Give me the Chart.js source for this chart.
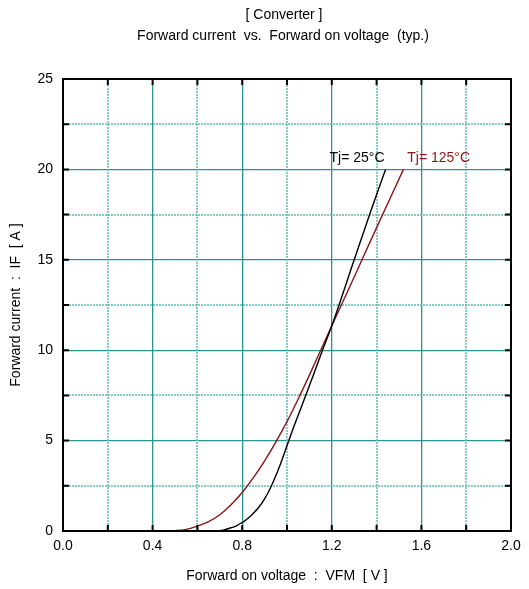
<!DOCTYPE html>
<html>
<head>
<meta charset="utf-8">
<script src="https://cdn.jsdelivr.net/npm/chart.js@4.4.1/dist/chart.umd.min.js"></script>
<style>
  html, body { margin: 0; padding: 0; background: #fff; }
</style>
</head>
<body>
<canvas id="ifChart" width="529" height="589"></canvas>
<script>
// textos
const titleLines = ['[ Converter ]', 'Forward current  vs.  Forward on voltage  (typ.)'];
const xAxisTitle = 'Forward on voltage  :  VFM  [ V ]';
const yAxisTitle = 'Forward current  :  IF  [ A ]';

// ejes
const xTicks = [0, 0.4, 0.8, 1.2, 1.6, 2.0];
const xTickLabels = ['0.0', '0.4', '0.8', '1.2', '1.6', '2.0'];
const yTicks = [0, 5, 10, 15, 20, 25];
const yTickLabels = ['0', '5', '10', '15', '20', '25'];
const xMinor = [0.2, 0.6, 1.0, 1.4, 1.8];
const yMinor = [2.5, 7.5, 12.5, 17.5, 22.5];

// curvas (VF en V, IF en A)
const seriesNames = ['Tj= 25°C', 'Tj= 125°C'];
const vf25  = [0.68, 0.72, 0.75, 0.77, 0.79, 0.81, 0.83, 0.85, 0.875, 0.90, 0.925, 0.95, 0.975, 1.0,  1.03, 1.07, 1.12, 1.16,  1.20,  1.30, 1.37,  1.44];
const if25  = [0,    0.06, 0.18, 0.26, 0.40, 0.55, 0.75, 0.98, 1.33,  1.78, 2.35,  3.05, 3.85,  4.72, 5.75, 7.05, 8.7,  10.05, 11.35, 15.0, 17.55, 20.0];
const vf125 = [0.46, 0.50, 0.55, 0.60, 0.65, 0.70, 0.75, 0.80, 0.85, 0.90, 0.95, 1.0,  1.05, 1.10, 1.15, 1.20,  1.30,  1.40,  1.52];
const if125 = [0,    0.02, 0.09, 0.27, 0.52, 0.90, 1.45, 2.13, 2.95, 3.88, 4.92, 6.05, 7.3,  8.62, 9.98, 11.35, 14.05, 16.78, 20.0];

// posición de las etiquetas de cada curva (en unidades de datos)
const labelAt = [[1.19, 20.65], [1.537, 20.6]];

const FONT = 'Liberation Sans, Arial, sans-serif';
const TEAL = '#2a9393';
const colors = ['#000000', '#8b1414'];

function toPoints(xs, ys) {
    return xs.map((x, i) => ({ x: x, y: ys[i] }));
}

// Plugin: titulo, rejilla menor punteada, marco, marcas internas y etiquetas
const decoPlugin = {
    id: 'deco',
    beforeDatasetsDraw(chart) {
        const { ctx, chartArea: a, scales: { x, y } } = chart;
        ctx.save();
        ctx.strokeStyle = '#62b9b9';
        ctx.lineWidth = 1.5;
        ctx.setLineDash([2, 1]);
        xMinor.forEach(v => {
            const px = Math.round(x.getPixelForValue(v));
            ctx.beginPath(); ctx.moveTo(px, a.top); ctx.lineTo(px, a.bottom); ctx.stroke();
        });
        yMinor.forEach(v => {
            const py = Math.round(y.getPixelForValue(v));
            ctx.beginPath(); ctx.moveTo(a.left, py); ctx.lineTo(a.right, py); ctx.stroke();
        });
        ctx.restore();
    },
    afterDatasetsDraw(chart) {
        const { ctx, chartArea: a, scales: { x, y } } = chart;
        ctx.save();
        // marco
        ctx.strokeStyle = '#000';
        ctx.lineWidth = 2;
        ctx.strokeRect(a.left, a.top, a.right - a.left, a.bottom - a.top);
        // marcas internas
        const tl = 6;
        xMinor.concat(xTicks.slice(1, -1)).forEach(v => {
            const px = x.getPixelForValue(v);
            ctx.beginPath();
            ctx.moveTo(px, a.bottom); ctx.lineTo(px, a.bottom - tl);
            ctx.moveTo(px, a.top); ctx.lineTo(px, a.top + tl);
            ctx.stroke();
        });
        yMinor.concat(yTicks.slice(1, -1)).forEach(v => {
            const py = y.getPixelForValue(v);
            ctx.beginPath();
            ctx.moveTo(a.left, py); ctx.lineTo(a.left + tl, py);
            ctx.moveTo(a.right, py); ctx.lineTo(a.right - tl, py);
            ctx.stroke();
        });
        // etiquetas de curvas
        ctx.font = '14px ' + FONT;
        ctx.textBaseline = 'middle';
        ctx.textAlign = 'left';
        seriesNames.forEach((name, i) => {
            ctx.fillStyle = colors[i];
            ctx.fillText(name, x.getPixelForValue(labelAt[i][0]), y.getPixelForValue(labelAt[i][1]));
        });
        // titulo
        ctx.fillStyle = '#000';
        ctx.textAlign = 'center';
        ctx.fillText(titleLines[0], 284, 15);
        ctx.fillText(titleLines[1], 283, 36);
        ctx.restore();
    }
};

const ctx = document.getElementById('ifChart').getContext('2d');
const chart = new Chart(ctx, {
    type: 'scatter',
    data: {
        datasets: [
            { label: seriesNames[0], data: toPoints(vf25, if25), borderColor: colors[0] },
            { label: seriesNames[1], data: toPoints(vf125, if125), borderColor: colors[1] }
        ]
    },
    options: {
        responsive: false,
        animation: false,
        devicePixelRatio: 1,
        showLine: true,
        layout: { padding: { top: 79, right: 18, left: 0, bottom: 0 } },
        elements: {
            point: { radius: 0 },
            line: { borderWidth: 1.4, cubicInterpolationMode: 'monotone' }
        },
        plugins: {
            legend: { display: false },
            tooltip: { enabled: false }
        },
        scales: {
            x: {
                type: 'linear',
                min: 0, max: 2,
                afterBuildTicks: s => { s.ticks = xTicks.map(v => ({ value: v })); },
                afterFit: s => { s.height = 58; },
                ticks: {
                    padding: 7,
                    color: '#000',
                    font: { family: FONT, size: 14 },
                    maxRotation: 0,
                    callback: (v, i) => xTickLabels[i]
                },
                grid: { color: TEAL, lineWidth: 1.3, drawTicks: false },
                border: { color: '#000', width: 2 },
                title: {
                    display: true, text: xAxisTitle, color: '#000',
                    font: { family: FONT, size: 14 },
                    padding: { top: 0, bottom: 4 }
                }
            },
            y: {
                type: 'linear',
                min: 0, max: 25,
                afterBuildTicks: s => { s.ticks = yTicks.map(v => ({ value: v })); },
                afterFit: s => { s.width = 63; },
                ticks: {
                    padding: 10,
                    color: '#000',
                    font: { family: FONT, size: 14 },
                    callback: (v, i) => yTickLabels[i]
                },
                grid: { color: TEAL, lineWidth: 1.3, drawTicks: false },
                border: { color: '#000', width: 2 },
                title: {
                    display: true, text: yAxisTitle, color: '#000',
                    font: { family: FONT, size: 14 },
                    padding: { top: 8, bottom: 0 }
                }
            }
        }
    },
    plugins: [decoPlugin]
});
</script>
</body>
</html>
